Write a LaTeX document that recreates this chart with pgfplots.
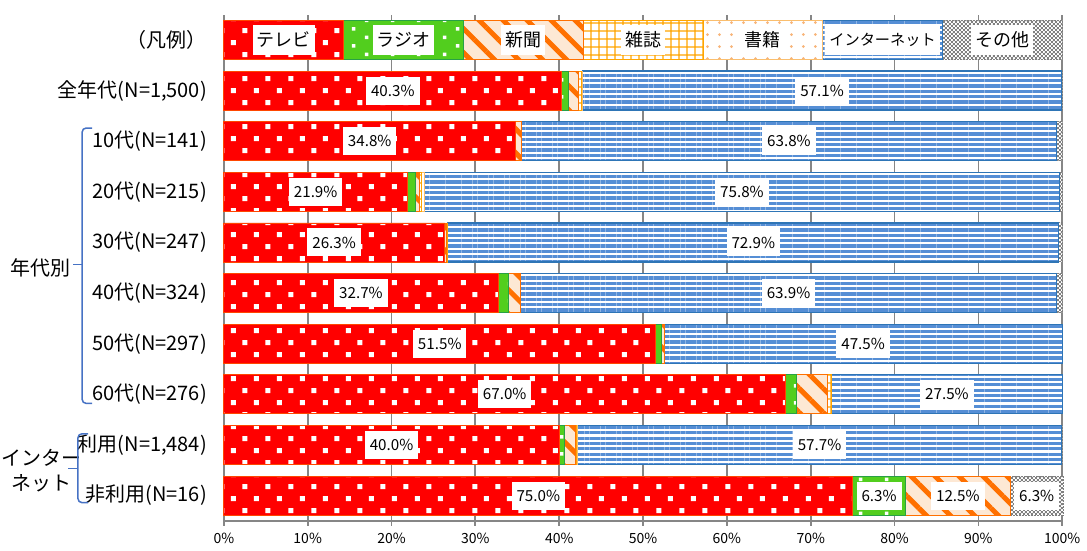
\documentclass[border=0pt]{standalone}
\usepackage{pgfplots}
\pgfplotsset{compat=1.18}
\usepackage{pgfplotstable}
\usepackage{fontspec}
\setmainfont{Noto Sans CJK JP}
\usetikzlibrary{patterns,patterns.meta}

\definecolor{tvred}{RGB}{255,0,0}
\definecolor{tvborder}{RGB}{255,70,0}
\definecolor{rdgreen}{RGB}{82,206,30}
\definecolor{rdborder}{RGB}{40,160,70}
\definecolor{nwpeach}{RGB}{253,232,212}
\definecolor{nworange}{RGB}{255,112,0}
\definecolor{mgorange}{RGB}{255,165,0}
\definecolor{bkdot}{RGB}{248,180,120}
\definecolor{bkborder}{RGB}{250,190,110}
\definecolor{netline}{RGB}{85,142,213}
\definecolor{netborder}{RGB}{46,117,182}
\definecolor{othgray}{RGB}{128,128,128}
\definecolor{brblue}{RGB}{70,114,196}
\definecolor{axgray}{RGB}{134,134,134}

\pgfdeclarepatternformonly{tvsq}{\pgfqpoint{0pt}{0pt}}{\pgfqpoint{11.5pt}{12pt}}{\pgfqpoint{11.5pt}{12pt}}{%
  \pgfpathrectangle{\pgfqpoint{1pt}{1pt}}{\pgfqpoint{2.5pt}{2.5pt}}%
  \pgfpathrectangle{\pgfqpoint{6.75pt}{7pt}}{\pgfqpoint{2.5pt}{2.5pt}}%
  \pgfusepath{fill}}
\pgfdeclarepatternformonly{rdsq}{\pgfqpoint{0pt}{0pt}}{\pgfqpoint{13pt}{8.5pt}}{\pgfqpoint{13pt}{8.5pt}}{%
  \pgfpathrectangle{\pgfqpoint{1pt}{1pt}}{\pgfqpoint{1.7pt}{1.7pt}}%
  \pgfpathrectangle{\pgfqpoint{7.5pt}{5.25pt}}{\pgfqpoint{1.7pt}{1.7pt}}%
  \pgfusepath{fill}}
\pgfdeclarepatternformonly{chk}{\pgfqpoint{0pt}{0pt}}{\pgfqpoint{2pt}{2pt}}{\pgfqpoint{2pt}{2pt}}{%
  \pgfpathrectangle{\pgfqpoint{0pt}{0pt}}{\pgfqpoint{1pt}{1pt}}%
  \pgfpathrectangle{\pgfqpoint{1pt}{1pt}}{\pgfqpoint{1pt}{1pt}}%
  \pgfusepath{fill}}

\tikzset{
  lbl/.style={fill=white, inner xsep=2.5pt, inner ysep=0pt, minimum height=14pt, font=\fontsize{7.6}{8.5}\selectfont, text=black},
  lg/.style={fill=white, inner xsep=2pt, inner ysep=0pt, minimum height=15pt, font=\fontsize{9}{10}\selectfont, text=black},
}

\pgfplotstableread{
y tv radio news mag book net other
9 14.2857 14.2857 14.2857 14.2857 14.2857 14.2857 14.2858
8 40.3 0.8 1.2 0.3 0.2 57.1 0.1
7 34.8 0 0.7 0 0 63.8 0.7
6 21.9 0.9 0.5 0.3 0.3 75.8 0.3
5 26.3 0 0.3 0.1 0 72.9 0.4
4 32.7 1.2 1.5 0 0 63.9 0.7
3 51.5 0.7 0.3 0 0 47.5 0
2 67.0 1.3 3.7 0.5 0 27.5 0
1 40.0 0.6 1.3 0.2 0.1 57.7 0.1
0 75.0 6.3 12.5 0 0 0 6.3
}\data

\begin{document}
\begin{tikzpicture}
\begin{axis}[
  xbar stacked,
  scale only axis,
  width=419.5pt, height=253.3pt,
  xmin=0, xmax=100, ymin=-0.5, ymax=9.5,
  bar width=0.77,
  clip=false,
  axis x line*=bottom, axis y line*=left,
  axis line style={axgray, line width=1pt},
  xmajorgrids, major grid style={axgray, line width=0.9pt},
  xtick={0,10,...,100},
  xticklabels={0\%,10\%,20\%,30\%,40\%,50\%,60\%,70\%,80\%,90\%,100\%},
  ytick={0,...,9},
  yticklabels={{非利用(N=16)},{利用(N=1,484)},{60代(N=276)},{50代(N=297)},{40代(N=324)},{30代(N=247)},{20代(N=215)},{10代(N=141)},{全年代(N=1,500)},{（凡例）}},
  minor ytick={-0.5,0.5,...,9.5},
  tick align=outside,
  major tick length=2.5pt, minor tick length=2.5pt,
  xtick style={axgray, line width=0.9pt},
  ytick style={draw=none},
  minor tick style={axgray, line width=0.9pt},
  yticklabel style={font=\fontsize{10}{11}\selectfont, xshift=-2.5pt},
  xticklabel style={font=\fontsize{7}{8}\selectfont},
  /pgf/number format/assume math mode=true,
]
\addplot[fill=tvred, draw=tvborder, line width=0.4pt, postaction={pattern=tvsq, pattern color=white}] table[x=tv, y=y] {\data};
\addplot[fill=rdgreen, draw=rdborder, line width=0.5pt, postaction={pattern=rdsq, pattern color=white}] table[x=radio, y=y] {\data};
\addplot[fill=nwpeach, draw=nworange, line width=0.4pt, postaction={pattern={Lines[angle=-45,distance=8.5pt,line width=2.5pt]}, pattern color=nworange}] table[x=news, y=y] {\data};
\addplot[fill=white, draw=mgorange, line width=0.4pt, postaction={pattern={Hatch[angle=0,distance=4pt,line width=0.6pt]}, pattern color=mgorange}] table[x=mag, y=y] {\data};
\addplot[fill=white, draw=bkborder, line width=0.4pt, postaction={pattern={Dots[distance=6pt,radius=0.75pt]}, pattern color=bkdot}] table[x=book, y=y] {\data};
\addplot[fill=white, draw=netborder, line width=0.6pt, postaction={pattern={Lines[angle=0,distance=2.67pt,line width=1.6pt]}, pattern color=netline}] table[x=net, y=y] {\data};
\addplot[fill=white, draw=othgray, line width=0.5pt, dash pattern=on 1pt off 0.5pt, postaction={pattern=chk, pattern color=othgray}] table[x=other, y=y] {\data};

% anchor points for the labels (legend row and values)
\coordinate (g1) at (axis cs:7.14,9);
\coordinate (g2) at (axis cs:21.43,9);
\coordinate (g3) at (axis cs:35.71,9);
\coordinate (g4) at (axis cs:50,9);
\coordinate (g5) at (axis cs:64.29,9);
\coordinate (g6) at (axis cs:78.57,9);
\coordinate (g7) at (axis cs:92.86,9);
\coordinate (v1) at (axis cs:20.15,8);
\coordinate (v2) at (axis cs:71.35,8);
\coordinate (v3) at (axis cs:17.4,7);
\coordinate (v4) at (axis cs:67.4,7);
\coordinate (v5) at (axis cs:10.95,6);
\coordinate (v6) at (axis cs:61.8,6);
\coordinate (v7) at (axis cs:13.15,5);
\coordinate (v8) at (axis cs:63.15,5);
\coordinate (v9) at (axis cs:16.35,4);
\coordinate (v10) at (axis cs:67.35,4);
\coordinate (v11) at (axis cs:25.75,3);
\coordinate (v12) at (axis cs:76.25,3);
\coordinate (v13) at (axis cs:33.5,2);
\coordinate (v14) at (axis cs:86.25,2);
\coordinate (v15) at (axis cs:20,1);
\coordinate (v16) at (axis cs:71.05,1);
\coordinate (v17) at (axis cs:37.5,0);
\coordinate (v18) at (axis cs:78.15,0);
\coordinate (v19) at (axis cs:87.55,0);
\coordinate (v20) at (axis cs:96.95,0);

% group brackets
\draw[brblue, line width=0.75pt, rounded corners=2pt] (axis cs:-15.7,7.26) -- (axis cs:-16.9,7.26) -- (axis cs:-16.9,1.82) -- (axis cs:-15.7,1.82);
\draw[brblue, line width=0.75pt] (axis cs:-16.9,4.56) -- (axis cs:-18.0,4.56);
\draw[brblue, line width=0.75pt, rounded corners=2pt] (axis cs:-16.2,1.22) -- (axis cs:-17.4,1.22) -- (axis cs:-17.4,-0.14) -- (axis cs:-16.2,-0.14);
\draw[brblue, line width=0.75pt] (axis cs:-17.4,0.53) -- (axis cs:-18.6,0.53);
\node[anchor=east, inner sep=0pt, font=\fontsize{10}{11}\selectfont] at (axis cs:-18.3,4.5) {年代別};
\node[align=center, inner sep=0pt, font=\fontsize{10}{12.5}\selectfont] at (axis cs:-21.8,0.50) {インター\\ネット};

% canvas extent
\path (axis cs:-26.7,9.789) rectangle (axis cs:102.86,-1.006);
\end{axis}

\node[lg] at (g1) {テレビ};
\node[lg] at (g2) {ラジオ};
\node[lg] at (g3) {新聞};
\node[lg] at (g4) {雑誌};
\node[lg] at (g5) {書籍};
\node[lg, font=\fontsize{7.6}{8.5}\selectfont] at (g6) {インターネット};
\node[lg] at (g7) {その他};

\node[lbl] at (v1) {40.3\%};
\node[lbl] at (v2) {57.1\%};
\node[lbl] at (v3) {34.8\%};
\node[lbl] at (v4) {63.8\%};
\node[lbl] at (v5) {21.9\%};
\node[lbl] at (v6) {75.8\%};
\node[lbl] at (v7) {26.3\%};
\node[lbl] at (v8) {72.9\%};
\node[lbl] at (v9) {32.7\%};
\node[lbl] at (v10) {63.9\%};
\node[lbl] at (v11) {51.5\%};
\node[lbl] at (v12) {47.5\%};
\node[lbl] at (v13) {67.0\%};
\node[lbl] at (v14) {27.5\%};
\node[lbl] at (v15) {40.0\%};
\node[lbl] at (v16) {57.7\%};
\node[lbl] at (v17) {75.0\%};
\node[lbl] at (v18) {6.3\%};
\node[lbl] at (v19) {12.5\%};
\node[lbl] at (v20) {6.3\%};
\end{tikzpicture}
\end{document}
